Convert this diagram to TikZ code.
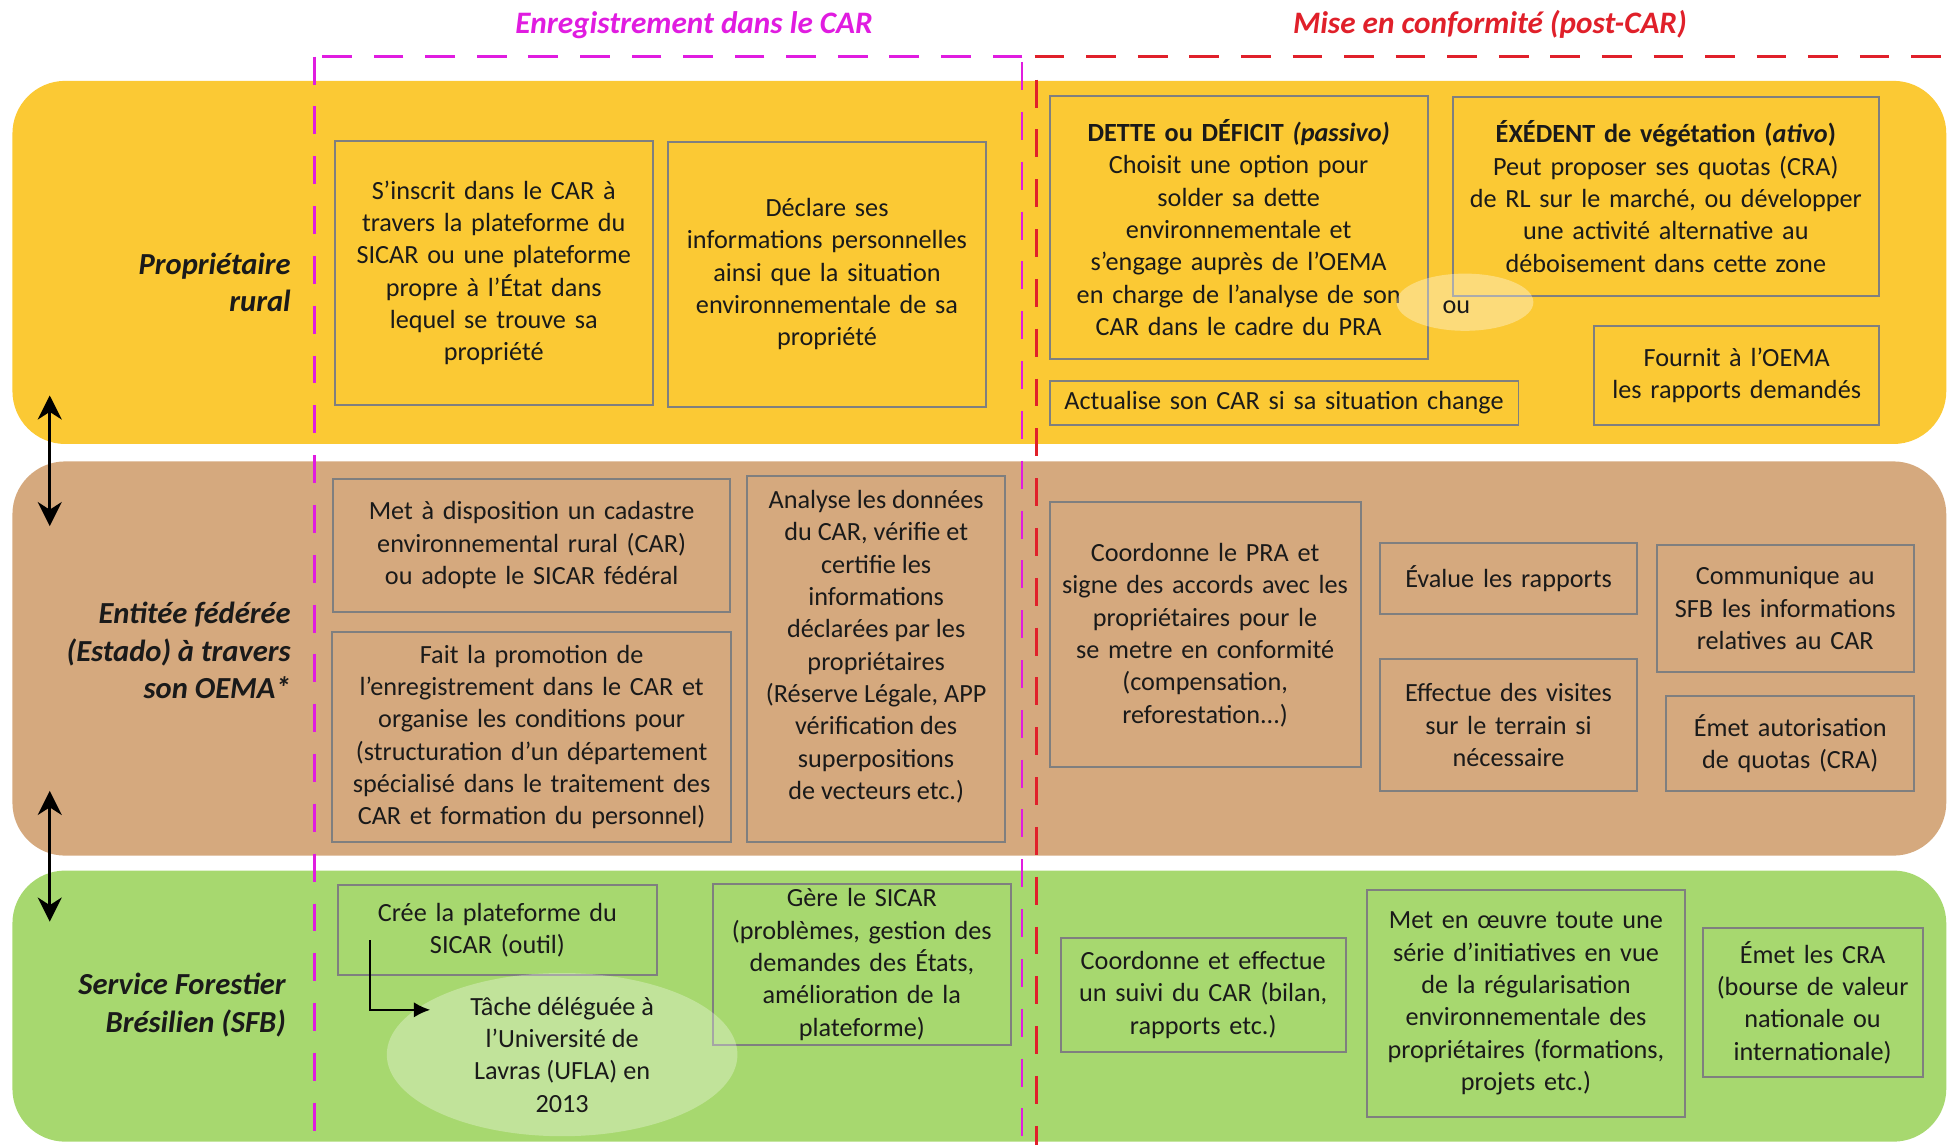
\documentclass[tikz,border=0pt]{standalone}
\usepackage{fontspec}
\setmainfont{Carlito}
\usetikzlibrary{arrows.meta,shapes.geometric}
\definecolor{bandY}{HTML}{FBC934}
\definecolor{bandT}{HTML}{D5A97E}
\definecolor{bandG}{HTML}{A7D86F}
\definecolor{boxline}{HTML}{7F7F7F}
\definecolor{magc}{HTML}{E01CE0}
\definecolor{redc}{HTML}{E0202A}
\definecolor{txtc}{HTML}{1A1A1A}
\newcommand{\boxnode}[6]{%
  \pgfmathsetmacro\bw{(#4-#2)*0.02}%
  \pgfmathsetmacro\bh{(#5-#3)*0.02}%
  \pgfmathsetmacro\tw{(#4-#2)*0.02-0.12}%
  \node[box, minimum width=\bw cm, minimum height=\bh cm, text width=\tw cm] (#1) at ({(#2+#4)/2},{(#3+#5)/2}) {#6};}
\begin{document}
\begin{tikzpicture}[x=0.02cm,y=-0.02cm,
  box/.style={draw=boxline, line width=0.9pt, inner sep=0pt, align=center, font=\fontsize{12}{14.8}\selectfont, text=txtc},
  band/.style={rounded corners=0.85cm},
  rowlabel/.style={anchor=east, align=right, font=\fontsize{14}{17.2}\selectfont\bfseries\itshape, text=txtc},
  title/.style={font=\fontsize{14.3}{18}\selectfont\bfseries\itshape},
  hdash/.style={line width=1.1pt, dash pattern=on 13.6pt off 10pt},
  vdash/.style={line width=1.1pt, dash pattern=on 12.8pt off 10pt},
  arr/.style={line width=1pt, -{Latex[length=7.5pt,width=7pt]}},
  darr/.style={line width=1.2pt, {Stealth[length=11pt,width=11pt,inset=3.5pt]}-{Stealth[length=11pt,width=11pt,inset=3.5pt]}},
  glow/.style={ellipse, fill=white, fill opacity=0.35, text opacity=1, inner sep=0pt, align=center, font=\fontsize{12}{14.8}\selectfont, text=txtc}
]
\useasboundingbox (0,0) rectangle (1568,921);
% bands
\fill[bandY, band] (10,65) rectangle (1565,357);
\fill[bandT, band] (10,371) rectangle (1565,688);
\fill[bandG, band] (10,700) rectangle (1565,918);
% titles
\node[title, text=magc] (t1) at (558,20) {Enregistrement dans le CAR};
\node[title, text=redc] (t2) at (1198,20) {Mise en conformité (post-CAR)};
% dashed frames
\draw[magc, hdash] (822,45.5) -- (253,45.5);
\draw[magc, vdash] (253,45.5) -- (253,921);
\draw[magc, vdash] (821.6,50) -- (821.6,921);
\draw[redc, hdash] (832,45.5) -- (1568,45.5);
\draw[redc, vdash] (833.6,64) -- (833.6,921);
% row labels
\node[rowlabel] (L1) at (240,227) {Propriétaire\\rural};
\node[rowlabel] (L2) at (240,523) {Entitée fédérée\\(Estado) à travers\\son OEMA*};
\node[rowlabel] (L3) at (236,808) {Service Forestier\\Brésilien (SFB)};
% left arrows
\coordinate (a1t) at (40,318); \coordinate (a1b) at (40,423);
\coordinate (a2t) at (40,636); \coordinate (a2b) at (40,741);
\draw[darr] (a1t) -- (a1b);
\draw[darr] (a2t) -- (a2b);
% yellow band boxes
\boxnode{B1}{269}{113}{525}{326}{S’inscrit dans le CAR à\\travers la plateforme du\\SICAR ou une plateforme\\propre à l’État dans\\lequel se trouve sa\\propriété}
\boxnode{B2}{537}{114}{793}{327}{Déclare ses\\informations personnelles\\ainsi que la situation\\environnementale de sa\\propriété}
\boxnode{B3}{844}{77}{1148}{289}{\textbf{DETTE ou DÉFICIT \textit{(passivo)}}\\Choisit une option pour\\solder sa dette\\environnementale et\\s’engage auprès de l’OEMA\\en charge de l’analyse de son\\CAR dans le cadre du PRA}
\boxnode{B4}{1168}{78}{1511}{238}{\textbf{ÉXÉDENT de végétation (\textit{ativo})}\\Peut proposer ses quotas (CRA)\\de RL sur le marché, ou développer\\une activité alternative au\\déboisement dans cette zone}
\boxnode{B5}{844}{306}{1221}{342}{Actualise son CAR si sa situation change}
\boxnode{B6}{1282}{262}{1511}{342}{Fournit à l’OEMA\\les rapports demandés}
\node[glow, minimum width=2.2cm, minimum height=0.92cm] (ou) at (1178,243) {};
\node[font=\fontsize{12}{14.8}\selectfont, text=txtc] (out) at (1171,247) {ou};
% tan band boxes
\boxnode{C1}{268}{385}{587}{492}{Met à disposition un cadastre\\environnemental rural (CAR)\\ou adopte le SICAR fédéral}
\boxnode{C2}{267}{508}{588}{677}{Fait la promotion de\\l’enregistrement dans le CAR et\\organise les conditions pour\\(structuration d’un département\\spécialisé dans le traitement des\\CAR et formation du personnel)}
\boxnode{C3}{601}{383}{808}{677}{}
\node[align=center, font=\fontsize{12}{14.8}\selectfont, text=txtc, inner sep=0pt] (C3t) at (704.5,520) {Analyse les données\\du CAR, vérifie et\\certifie les\\informations\\déclarées par les\\propriétaires\\(Réserve Légale, APP\\vérification des\\superpositions\\de vecteurs etc.)};
\boxnode{C4}{844}{404}{1094}{617}{Coordonne le PRA et\\signe des accords avec les\\propriétaires pour le\\se metre en conformité\\(compensation,\\reforestation...)}
\boxnode{C5}{1110}{437}{1316}{494}{Évalue les rapports}
\boxnode{C6}{1110}{530}{1316}{636}{Effectue des visites\\sur le terrain si\\nécessaire}
\boxnode{C7}{1332}{438}{1539}{540}{Communique au\\SFB les informations\\relatives au CAR}
\boxnode{C8}{1340}{560}{1539}{636}{Émet autorisation\\de quotas (CRA)}
% green band boxes
\boxnode{D1}{272}{712}{528}{784}{Crée la plateforme du\\SICAR (outil)}
\boxnode{D3}{573}{711}{813}{840}{Gère le SICAR\\(problèmes, gestion des\\demandes des États,\\amélioration de la\\plateforme)}
\node[glow, fill opacity=0.3, minimum width=5.64cm, minimum height=2.28cm] (D2) at (452,848) {Tâche déléguée à\\l’Université de\\Lavras (UFLA) en\\2013};
\boxnode{D4}{853}{754}{1082}{846}{Coordonne et effectue\\un suivi du CAR (bilan,\\rapports etc.)}
\boxnode{D5}{1099}{716}{1355}{898}{Met en œuvre toute une\\série d’initiatives en vue\\de la régularisation\\environnementale des\\propriétaires (formations,\\projets etc.)}
\boxnode{D6}{1369}{746}{1546}{866}{Émet les CRA\\(bourse de valeur\\nationale ou\\internationale)}
\coordinate (d1s) at (297.5,756);
\coordinate (d2e) at (346,812);
\draw[arr] (d1s) |- (d2e);
\end{tikzpicture}
\end{document}
